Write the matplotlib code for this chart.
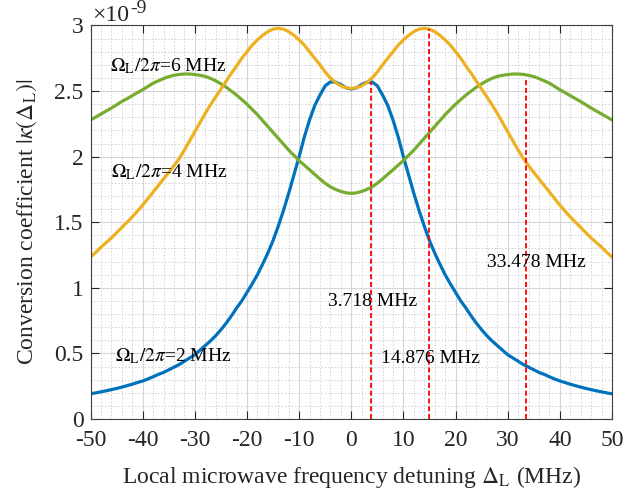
import numpy as np
import matplotlib
matplotlib.use('Agg')
import matplotlib.pyplot as plt
from matplotlib.ticker import MultipleLocator, FormatStrFormatter

plt.rcParams['font.family'] = ['Liberation Serif', 'DejaVu Serif']
plt.rcParams['mathtext.fontset'] = 'stix'
plt.rcParams['axes.unicode_minus'] = False

# detuning (MHz), 1 MHz steps
detuning = list(range(-50, 51))

# |kappa| in units of 1e-9
kappa_2mhz = [
    0.192, 0.199, 0.207, 0.215, 0.224, 0.233, 0.243, 0.254, 0.265, 0.278,
    0.29, 0.305, 0.322, 0.34, 0.355, 0.375, 0.395, 0.415, 0.44, 0.465,
    0.49, 0.525, 0.56, 0.595, 0.635, 0.68, 0.73, 0.785, 0.845, 0.90,
    0.965, 1.03, 1.10, 1.18, 1.265, 1.36, 1.47, 1.59, 1.72, 1.86,
    2.00, 2.15, 2.28, 2.39, 2.47, 2.54, 2.57, 2.568, 2.55, 2.525,
    2.515,
    2.525, 2.55, 2.568, 2.57, 2.54, 2.47, 2.39, 2.28, 2.15, 2.00,
    1.86, 1.72, 1.59, 1.47, 1.36, 1.265, 1.18, 1.10, 1.03, 0.965,
    0.90, 0.845, 0.785, 0.73, 0.68, 0.635, 0.595, 0.56, 0.525, 0.49,
    0.465, 0.44, 0.415, 0.395, 0.375, 0.355, 0.34, 0.322, 0.305, 0.29,
    0.278, 0.265, 0.254, 0.243, 0.233, 0.224, 0.215, 0.207, 0.199, 0.192]

kappa_4mhz = [
    1.235, 1.27, 1.31, 1.345, 1.38, 1.42, 1.46, 1.50, 1.54, 1.585,
    1.63, 1.68, 1.73, 1.78, 1.83, 1.88, 1.93, 1.985, 2.05, 2.12,
    2.19, 2.26, 2.33, 2.395, 2.455, 2.515, 2.575, 2.635, 2.69, 2.75,
    2.80, 2.85, 2.89, 2.925, 2.953, 2.972, 2.978, 2.972, 2.953, 2.925,
    2.89, 2.85, 2.80, 2.75, 2.70, 2.645, 2.60, 2.565, 2.54, 2.525,
    2.52,
    2.525, 2.54, 2.565, 2.60, 2.645, 2.70, 2.75, 2.80, 2.85, 2.89,
    2.925, 2.953, 2.972, 2.978, 2.972, 2.953, 2.925, 2.89, 2.85, 2.80,
    2.75, 2.69, 2.635, 2.575, 2.515, 2.455, 2.395, 2.33, 2.26, 2.19,
    2.12, 2.05, 1.985, 1.93, 1.88, 1.83, 1.78, 1.73, 1.68, 1.63,
    1.585, 1.54, 1.50, 1.46, 1.42, 1.38, 1.345, 1.31, 1.27, 1.235]

kappa_6mhz = [
    2.28, 2.302, 2.325, 2.348, 2.37, 2.395, 2.42, 2.442, 2.465, 2.488,
    2.51, 2.535, 2.56, 2.578, 2.595, 2.61, 2.62, 2.627, 2.63, 2.63,
    2.626, 2.62, 2.612, 2.597, 2.578, 2.555, 2.53, 2.50, 2.47, 2.435,
    2.40, 2.36, 2.32, 2.275, 2.23, 2.185, 2.14, 2.095, 2.05, 2.01,
    1.97, 1.935, 1.90, 1.865, 1.83, 1.797, 1.77, 1.75, 1.735, 1.724,
    1.72,
    1.724, 1.735, 1.75, 1.77, 1.797, 1.83, 1.865, 1.90, 1.935, 1.97,
    2.01, 2.05, 2.095, 2.14, 2.185, 2.23, 2.275, 2.32, 2.36, 2.40,
    2.435, 2.47, 2.50, 2.53, 2.555, 2.578, 2.597, 2.612, 2.62, 2.626,
    2.63, 2.63, 2.627, 2.62, 2.61, 2.595, 2.578, 2.56, 2.535, 2.51,
    2.488, 2.465, 2.442, 2.42, 2.395, 2.37, 2.348, 2.325, 2.302, 2.28]

# marked peak positions (MHz) and the height the dashed lines reach
peak_pos = [3.718, 14.876, 33.478]
peak_top = [2.57, 2.97, 2.60]

fig = plt.figure(figsize=(6.41, 4.90), dpi=100)
ax = fig.add_axes([0.1412, 0.1449, 0.8136, 0.8031])

ax.plot(detuning, kappa_2mhz, color='#0072BD', lw=2.3)
ax.plot(detuning, kappa_6mhz, color='#77AC30', lw=2.3)
ax.plot(detuning, kappa_4mhz, color='#EDB120', lw=2.3)

for p, top in zip(peak_pos, peak_top):
    ax.plot([p, p], [0, top], color='#FF0000', lw=1.3, ls=(0, (2.8, 1.5)))

ax.set_xlim(-50, 50)
ax.set_ylim(0, 3)
ax.xaxis.set_major_locator(MultipleLocator(10))
ax.yaxis.set_major_locator(MultipleLocator(0.5))
ax.xaxis.set_minor_locator(MultipleLocator(2))
ax.yaxis.set_minor_locator(MultipleLocator(0.1))
ax.yaxis.set_major_formatter(FormatStrFormatter('%g'))
ax.grid(which='major', color='#d6d6d6', lw=0.8)
ax.grid(which='minor', color='#cfcfcf', lw=0.6, ls=(0, (2, 2)))
ax.set_axisbelow(True)
ax.tick_params(which='major', direction='in', length=6, width=0.8,
               top=True, right=True, labelsize=17, colors='#262626')
ax.tick_params(axis='x', pad=8)
ax.tick_params(axis='y', pad=5)
ax.tick_params(which='minor', length=0)
for s in ax.spines.values():
    s.set_color('#404040')
    s.set_linewidth(0.8)

ax.set_xlabel(r'Local microwave frequency detuning $\Delta_\mathrm{L}$ (MHz)',
              fontsize=17, color='#262626', labelpad=9)
ax.set_ylabel(r'Conversion coefficient $|\kappa(\Delta_\mathrm{L})|$',
              fontsize=17, color='#262626', labelpad=11)

# exponent marker above the y axis, MATLAB style
ax.text(-49.7, 3.033, '×10', fontsize=17, color='#262626',
        ha='left', va='baseline', clip_on=False)
ax.text(-42.3, 3.094, '-9', fontsize=14, color='#262626',
        ha='left', va='baseline', clip_on=False)

ax.text(-46.2, 2.647, r'$\Omega_\mathrm{L}/2\pi$=6 MHz', fontsize=14)
ax.text(-46.0, 1.839, r'$\Omega_\mathrm{L}/2\pi$=4 MHz', fontsize=14)
ax.text(-45.3, 0.438, r'$\Omega_\mathrm{L}/2\pi$=2 MHz', fontsize=14)
ax.text(-4.5, 0.862, '3.718 MHz', fontsize=14)
ax.text(5.7, 0.430, '14.876 MHz', fontsize=14)
ax.text(26.0, 1.161, '33.478 MHz', fontsize=14)

fig.savefig('out.png', dpi=100)
